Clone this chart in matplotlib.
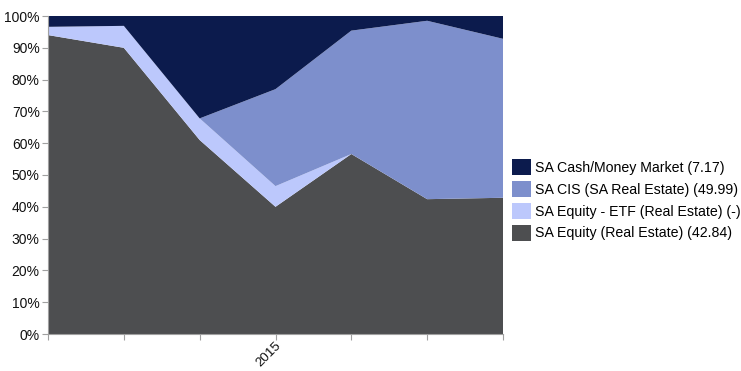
import matplotlib
matplotlib.use('Agg')
import matplotlib.pyplot as plt
from matplotlib.patches import Patch
import numpy as np

plt.rcParams['font.family'] = ['Liberation Sans', 'DejaVu Sans']

# data (percent of portfolio per period)
periods = ['', '', '', '2015', '', '', '']
equity = [94.0, 90.0, 61.0, 40.0, 56.6, 42.4, 42.84]
equity_etf = [2.6, 6.9, 6.8, 6.5, 0.0, 0.0, 0.0]
cis = [0.0, 0.0, 0.0, 30.5, 38.8, 56.1, 49.99]
cash = [3.4, 3.1, 32.2, 23.0, 4.6, 1.5, 7.17]

labels = ['SA Equity (Real Estate) (42.84)',
          'SA Equity - ETF (Real Estate) (-)',
          'SA CIS (SA Real Estate) (49.99)',
          'SA Cash/Money Market (7.17)']
colors = ['#4d4e50', '#bcc8fc', '#7d8fcc', '#0c1b4d']

x = np.arange(len(periods))

fig = plt.figure(figsize=(7.41, 3.71), dpi=100)
ax = fig.add_axes([48 / 741, 1 - 334 / 371, (503 - 48) / 741, (334 - 16) / 371])

ax.stackplot(x, equity, equity_etf, cis, cash, colors=colors, linewidth=0)

ax.set_xlim(0, len(periods) - 1)
ax.set_ylim(0, 100)
ax.set_yticks(np.arange(0, 101, 10))
ax.set_yticklabels([f'{v}%' for v in range(0, 101, 10)], fontsize=10)
ax.set_xticks(x)
ax.set_xticklabels(periods, rotation=45, fontsize=9.6, ha='right',
                   rotation_mode='anchor')

for s in ['top', 'right']:
    ax.spines[s].set_visible(False)
for s in ['left', 'bottom']:
    ax.spines[s].set_color('#a0a0a0')
ax.tick_params(axis='both', colors='#a0a0a0', length=4, labelcolor='#111111')
ax.tick_params(axis='x', pad=0)
ax.tick_params(axis='y', pad=2)

handles = [Patch(facecolor=c, edgecolor='none') for c in colors]
fig.legend(handles[::-1], labels[::-1], loc='center left', bbox_to_anchor=(0.691, 0.461),
           frameon=False, fontsize=10.2, handlelength=1.35, handleheight=1.35,
           handletextpad=0.3, labelspacing=0.42, borderaxespad=0, borderpad=0)

fig.savefig('out.png', dpi=100)
